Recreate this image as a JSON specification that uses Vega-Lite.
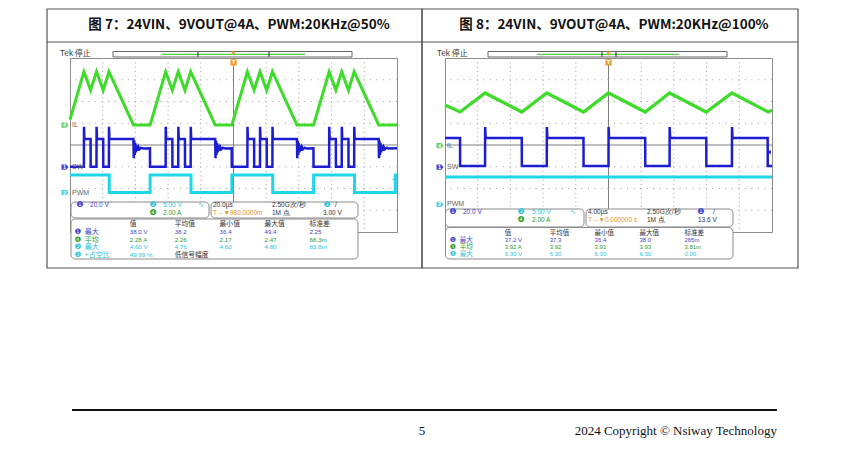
{
"$schema": "https://vega.github.io/schema/vega-lite/v6.json",
"autosize": {"type": "none", "contains": "content"},
"padding": {"left": 70, "top": 58, "right": 780, "bottom": 392},
"background": "white",
"spacing": 48,
"bounds": "flush",
"config": {"view": {"stroke": "#8c8c8c", "strokeWidth": 1}, "axis": {"disable": true}, "legend": {"disable": true}},
"hconcat": [
{
 "width": 327, "height": 174,
 "resolve": {"scale": {"x": "independent", "y": "independent"}},
 "layer": [
  {
   "data": {"values": [{"title": "图 7：24VIN、9VOUT@4A、PWM:20KHz@50%", "tek": "Tek 停止", "page": "5", "copyright": "2024 Copyright © Nsiway Technology"}]},
   "layer": [
    {"data": {"values": [{"g":1},{"g":2},{"g":3},{"g":4},{"g":6},{"g":7},{"g":8},{"g":9}]}, "mark": {"type": "rule", "color": "#a0a0a0", "strokeDash": [1, 3.35]}, "encoding": {"x": {"field": "g", "type": "quantitative", "scale": {"domain": [0, 10], "nice": false, "zero": false}}}},
    {"data": {"values": [{"g":-3},{"g":-2},{"g":-1},{"g":1},{"g":2},{"g":3}]}, "mark": {"type": "rule", "color": "#a0a0a0", "strokeDash": [1, 5.54]}, "encoding": {"y": {"field": "g", "type": "quantitative", "scale": {"domain": [-4, 4], "nice": false, "zero": false}}}},
    {"mark": {"type": "rule", "color": "#808080"}, "encoding": {"x": {"datum": 5}}},
    {"mark": {"type": "rule", "color": "#808080"}, "encoding": {"y": {"datum": 0}}},
    {"mark": {"type": "rect", "fillOpacity": 0, "stroke": "#555", "strokeWidth": 1.2}, "encoding": {"x": {"datum": -0.703}, "x2": {"datum": 10.765}, "y": {"datum": 6.253}, "y2": {"datum": -5.655}}},
    {"mark": {"type": "rule", "color": "#555", "strokeWidth": 1.2}, "encoding": {"x": {"datum": -0.703}, "x2": {"datum": 10.765}, "y": {"datum": 4.736}}},
    {"mark": {"type": "text", "font": "Noto Sans CJK SC", "fontWeight": "bold", "fontSize": 13.5, "color": "#111", "align": "center", "baseline": "middle"}, "encoding": {"x": {"datum": 5.168}, "y": {"datum": 5.517}, "text": {"field": "title"}}},
    {"mark": {"type": "text", "font": "Noto Sans CJK SC", "fontSize": 8, "color": "#333", "align": "left", "baseline": "middle"}, "encoding": {"x": {"datum": -0.306}, "y": {"datum": 4.184}, "text": {"field": "tek"}}},
    {"mark": {"type": "rect", "fill": "white", "stroke": "#666", "strokeWidth": 1}, "encoding": {"x": {"datum": 1.315}, "x2": {"datum": 8.624}, "y": {"datum": 4.299}, "y2": {"datum": 4.046}}},
    {"mark": {"type": "rule", "color": "#55cc55", "strokeWidth": 1.2}, "encoding": {"x": {"datum": 2.813}, "x2": {"datum": 7.187}, "y": {"datum": 4.17}}},
    {"mark": {"type": "rule", "color": "#222", "strokeWidth": 1}, "encoding": {"x": {"datum": 3.914}, "y": {"datum": 4.28}, "y2": {"datum": 4.06}}},
    {"mark": {"type": "rule", "color": "#222", "strokeWidth": 1}, "encoding": {"x": {"datum": 6.086}, "y": {"datum": 4.28}, "y2": {"datum": 4.06}}},
    {"mark": {"type": "point", "shape": "triangle-down", "size": 22, "filled": true, "color": "#f0a030", "opacity": 1}, "encoding": {"x": {"datum": 5}, "y": {"datum": 4.2}}},
    {"mark": {"type": "point", "shape": "square", "size": 40, "filled": true, "color": "#f0a030", "opacity": 1}, "encoding": {"x": {"datum": 5}, "y": {"datum": 3.8}}},
    {"mark": {"type": "text", "fontSize": 6, "fontWeight": "bold", "color": "white", "align": "center", "baseline": "middle"}, "encoding": {"x": {"datum": 5}, "y": {"datum": 3.8}, "text": {"value": "T"}}},
    {"mark": {"type": "rule", "color": "#111", "strokeWidth": 1.8}, "encoding": {"x": {"datum": 0.061}, "x2": {"datum": 21.62}, "y": {"datum": -12.184}}},
    {"mark": {"type": "text", "font": "Liberation Serif", "fontSize": 13, "color": "#111", "align": "center", "baseline": "alphabetic"}, "encoding": {"x": {"datum": 10.765}, "y": {"datum": -13.333}, "text": {"field": "page"}}},
    {"mark": {"type": "text", "font": "Liberation Serif", "fontSize": 13, "color": "#111", "align": "right", "baseline": "alphabetic"}, "encoding": {"x": {"datum": 21.62}, "y": {"datum": -13.333}, "text": {"field": "copyright"}}}
   ]
  },
  {
   "data": {"values": [{"t":0,"v":0.5},{"t":8.5,"v":4.9},{"t":12.6,"v":3.2},{"t":16.2,"v":4.9},{"t":20.3,"v":3.2},{"t":23.8,"v":4.9},{"t":38.8,"v":0},{"t":49,"v":0},
    {"t":58.5,"v":4.9},{"t":62.6,"v":3.2},{"t":66.2,"v":4.9},{"t":70.3,"v":3.2},{"t":73.8,"v":4.9},{"t":88.8,"v":0},{"t":99,"v":0},
    {"t":108.5,"v":4.9},{"t":112.6,"v":3.2},{"t":116.2,"v":4.9},{"t":120.3,"v":3.2},{"t":123.8,"v":4.9},{"t":138.8,"v":0},{"t":149,"v":0},
    {"t":158.5,"v":4.9},{"t":162.6,"v":3.2},{"t":166.2,"v":4.9},{"t":170.3,"v":3.2},{"t":173.8,"v":4.9},{"t":188.8,"v":0},{"t":200,"v":0}]},
   "layer": [
    {"mark": {"type": "line", "color": "#3edb2b", "strokeWidth": 3}, "encoding": {"x": {"field": "t", "type": "quantitative", "scale": {"domain": [0, 200], "nice": false, "zero": false}}, "y": {"field": "v", "type": "quantitative", "scale": {"domain": [-9.839, 6.161], "nice": false, "zero": false}}}},
    {"data": {"values": [{"ch": "4", "name": "IL"}]}, "encoding": {"x": {"datum": 0}, "y": {"datum": 0}},
     "layer": [
      {"mark": {"type": "point", "shape": "M-1,-0.75L0.4,-0.75L1,0L0.4,0.75L-1,0.75Z", "size": 49, "filled": true, "color": "#5cc85c", "opacity": 0.9, "xOffset": -5}},
      {"mark": {"type": "text", "fontSize": 5.5, "fontWeight": "bold", "color": "white", "align": "center", "baseline": "middle", "dx": -5.5}, "encoding": {"text": {"field": "ch"}}},
      {"mark": {"type": "text", "fontSize": 7, "color": "#666", "align": "left", "baseline": "middle", "dx": 2}, "encoding": {"text": {"field": "name"}}}
     ]}
   ]
  },
  {
   "data": {"values": [{"t":0,"v":0.3},
    {"t":8.5,"v":0.3},{"t":8.55,"v":37},{"t":8.8,"v":25.7},{"t":12.6,"v":25.7},{"t":12.65,"v":0.3},{"t":16.2,"v":0.3},{"t":16.25,"v":37},{"t":16.5,"v":25.7},{"t":20.3,"v":25.7},{"t":20.35,"v":0.3},{"t":23.8,"v":0.3},{"t":23.85,"v":37},{"t":24.1,"v":25.7},{"t":38.8,"v":25.7},{"t":39.0,"v":8},{"t":39.3,"v":24},{"t":39.6,"v":11},{"t":39.9,"v":22},{"t":40.3,"v":13.5},{"t":40.7,"v":20},{"t":41.2,"v":15},{"t":41.8,"v":18.5},{"t":42.5,"v":16.3},{"t":43.5,"v":17.6},{"t":45,"v":17},{"t":48.9,"v":17.2},{"t":48.95,"v":0.3},
    {"t":58.5,"v":0.3},{"t":58.55,"v":37},{"t":58.8,"v":25.7},{"t":62.6,"v":25.7},{"t":62.65,"v":0.3},{"t":66.2,"v":0.3},{"t":66.25,"v":37},{"t":66.5,"v":25.7},{"t":70.3,"v":25.7},{"t":70.35,"v":0.3},{"t":73.8,"v":0.3},{"t":73.85,"v":37},{"t":74.1,"v":25.7},{"t":88.8,"v":25.7},{"t":89.0,"v":8},{"t":89.3,"v":24},{"t":89.6,"v":11},{"t":89.9,"v":22},{"t":90.3,"v":13.5},{"t":90.7,"v":20},{"t":91.2,"v":15},{"t":91.8,"v":18.5},{"t":92.5,"v":16.3},{"t":93.5,"v":17.6},{"t":95,"v":17},{"t":98.9,"v":17.2},{"t":98.95,"v":0.3},
    {"t":108.5,"v":0.3},{"t":108.55,"v":37},{"t":108.8,"v":25.7},{"t":112.6,"v":25.7},{"t":112.65,"v":0.3},{"t":116.2,"v":0.3},{"t":116.25,"v":37},{"t":116.5,"v":25.7},{"t":120.3,"v":25.7},{"t":120.35,"v":0.3},{"t":123.8,"v":0.3},{"t":123.85,"v":37},{"t":124.1,"v":25.7},{"t":138.8,"v":25.7},{"t":139.0,"v":8},{"t":139.3,"v":24},{"t":139.6,"v":11},{"t":139.9,"v":22},{"t":140.3,"v":13.5},{"t":140.7,"v":20},{"t":141.2,"v":15},{"t":141.8,"v":18.5},{"t":142.5,"v":16.3},{"t":143.5,"v":17.6},{"t":145,"v":17},{"t":148.9,"v":17.2},{"t":148.95,"v":0.3},
    {"t":158.5,"v":0.3},{"t":158.55,"v":37},{"t":158.8,"v":25.7},{"t":162.6,"v":25.7},{"t":162.65,"v":0.3},{"t":166.2,"v":0.3},{"t":166.25,"v":37},{"t":166.5,"v":25.7},{"t":170.3,"v":25.7},{"t":170.35,"v":0.3},{"t":173.8,"v":0.3},{"t":173.85,"v":37},{"t":174.1,"v":25.7},{"t":188.8,"v":25.7},{"t":189.0,"v":8},{"t":189.3,"v":24},{"t":189.6,"v":11},{"t":189.9,"v":22},{"t":190.3,"v":13.5},{"t":190.7,"v":20},{"t":191.2,"v":15},{"t":191.8,"v":18.5},{"t":192.5,"v":16.3},{"t":193.5,"v":17.6},{"t":195,"v":17},{"t":200,"v":17.2}]},
   "layer": [
    {"mark": {"type": "line", "color": "#1c1cd2", "strokeWidth": 2.5}, "encoding": {"x": {"field": "t", "type": "quantitative", "scale": {"domain": [0, 200], "nice": false, "zero": false}}, "y": {"field": "v", "type": "quantitative", "scale": {"domain": [-59.77, 100.23], "nice": false, "zero": false}}}},
    {"data": {"values": [{"ch": "1", "name": "SW"}]}, "encoding": {"x": {"datum": 0}, "y": {"datum": 0}},
     "layer": [
      {"mark": {"type": "point", "shape": "M-1,-0.75L0.4,-0.75L1,0L0.4,0.75L-1,0.75Z", "size": 49, "filled": true, "color": "#3030c0", "opacity": 0.9, "xOffset": -5}},
      {"mark": {"type": "text", "fontSize": 5.5, "fontWeight": "bold", "color": "white", "align": "center", "baseline": "middle", "dx": -5.5}, "encoding": {"text": {"field": "ch"}}},
      {"mark": {"type": "text", "fontSize": 7, "color": "#666", "align": "left", "baseline": "middle", "dx": 2}, "encoding": {"text": {"field": "name"}}}
     ]}
   ]
  },
  {
   "data": {"values": [{"t":0,"v":4},{"t":24,"v":4},{"t":24,"v":0},{"t":49,"v":0},{"t":49,"v":4},{"t":74,"v":4},{"t":74,"v":0},{"t":99,"v":0},{"t":99,"v":4},{"t":124,"v":4},{"t":124,"v":0},{"t":149,"v":0},{"t":149,"v":4},{"t":174,"v":4},{"t":174,"v":0},{"t":199,"v":0},{"t":199,"v":4},{"t":200,"v":4}]},
   "layer": [
    {"mark": {"type": "line", "color": "#1fd5e8", "strokeWidth": 3}, "encoding": {"x": {"field": "t", "type": "quantitative", "scale": {"domain": [0, 200], "nice": false, "zero": false}}, "y": {"field": "v", "type": "quantitative", "scale": {"domain": [-9.08, 30.92], "nice": false, "zero": false}}}},
    {"data": {"values": [{"ch": "2", "name": "PWM"}]}, "encoding": {"x": {"datum": 0}, "y": {"datum": 0}},
     "layer": [
      {"mark": {"type": "point", "shape": "M-1,-0.75L0.4,-0.75L1,0L0.4,0.75L-1,0.75Z", "size": 49, "filled": true, "color": "#3cc8dc", "opacity": 0.9, "xOffset": -5}},
      {"mark": {"type": "text", "fontSize": 5.5, "fontWeight": "bold", "color": "white", "align": "center", "baseline": "middle", "dx": -5.5}, "encoding": {"text": {"field": "ch"}}},
      {"mark": {"type": "text", "fontSize": 7, "color": "#666", "align": "left", "baseline": "middle", "dx": 2}, "encoding": {"text": {"field": "name"}}}
     ]},
    {"data": {"values": [{"lvl": 3.0}]}, "mark": {"type": "point", "shape": "triangle-left", "size": 18, "filled": true, "color": "#1fd5e8", "opacity": 1, "xOffset": -3}, "encoding": {"x": {"datum": 200}, "y": {"field": "lvl", "type": "quantitative"}}}
   ]
  },
  {
   "data": {"values": [{}]},
   "layer": [
    {"mark": {"type": "rect", "fill": "white", "stroke": "#8a8a8a", "strokeWidth": 1, "cornerRadius": 4}, "encoding": {"x": {"datum": 0.031, "type": "quantitative", "scale": {"domain": [0, 10], "nice": false, "zero": false}}, "x2": {"datum": 4.251}, "y": {"datum": -2.621, "type": "quantitative", "scale": {"domain": [-4, 4], "nice": false, "zero": false}}, "y2": {"datum": -3.356}}},
    {"mark": {"type": "rect", "fill": "white", "stroke": "#8a8a8a", "strokeWidth": 1, "cornerRadius": 4}, "encoding": {"x": {"datum": 4.312}, "x2": {"datum": 8.807}, "y": {"datum": -2.621}, "y2": {"datum": -3.356}}},
    {"mark": {"type": "rect", "fill": "white", "stroke": "#8a8a8a", "strokeWidth": 1, "cornerRadius": 4}, "encoding": {"x": {"datum": 0.031}, "x2": {"datum": 8.807}, "y": {"datum": -3.402}, "y2": {"datum": -5.241}}}
   ]
  },
  {
   "data": {"values": [
    {"c":"A","r":0,"p":"❶","pch":"1","t":"20.0 V","ch":"1"},{"c":"B","r":0,"p":"❷","pch":"2","t":"5.00 V","ch":"2"},{"c":"B","r":1,"p":"❹","pch":"4","t":"2.00 A","ch":"4"},{"c":"I","r":0,"t":"∿","ch":"2"},
    {"c":"C","r":0,"t":"20.0µs","ch":"k"},{"c":"C","r":1,"t":"T→▼980.0000m","ch":"o"},{"c":"D","r":0,"t":"2.50G次/秒","ch":"k"},{"c":"D","r":1,"t":"1M 点","ch":"k"},
    {"c":"F","r":0,"p":"❷","pch":"2","t":"/","ch":"k"},{"c":"E","r":1,"t":"3.00 V","ch":"k"}]},
   "encoding": {
    "y": {"field": "r", "type": "quantitative", "scale": {"domain": [-18.375, 3.375], "reverse": true, "nice": false, "zero": false}},
    "text": {"field": "t"},
    "color": {"field": "ch", "type": "nominal", "scale": {"domain": ["1","4","2","k","o"], "range": ["#4444c4","#2d9a2d","#2cc4d8","#333333","#e8931a"]}, "legend": null}
   },
   "layer": [
    {"transform": [{"filter": "datum.c==='A'"}], "encoding": {"x": {"datum": 0.612, "type": "quantitative", "scale": {"domain": [0, 10], "nice": false, "zero": false}}},
     "layer": [
      {"mark": {"type": "text", "font": "Liberation Sans", "fontSize": 6.5, "align": "left", "baseline": "middle"}},
      {"mark": {"type": "text", "font": "DejaVu Sans", "fontSize": 8, "align": "center", "baseline": "middle", "dx": -10}, "encoding": {"text": {"field": "p"}, "color": {"field": "pch", "type": "nominal"}}}
     ]},
    {"transform": [{"filter": "datum.c==='B'"}], "encoding": {"x": {"datum": 2.844}},
     "layer": [
      {"mark": {"type": "text", "font": "Liberation Sans", "fontSize": 6.5, "align": "left", "baseline": "middle"}},
      {"mark": {"type": "text", "font": "DejaVu Sans", "fontSize": 8, "align": "center", "baseline": "middle", "dx": -10}, "encoding": {"text": {"field": "p"}, "color": {"field": "pch", "type": "nominal"}}}
     ]},
    {"transform": [{"filter": "datum.c==='F'"}], "encoding": {"x": {"datum": 8.104}},
     "layer": [
      {"mark": {"type": "text", "font": "Liberation Sans", "fontSize": 6.5, "align": "left", "baseline": "middle"}},
      {"mark": {"type": "text", "font": "DejaVu Sans", "fontSize": 8, "align": "center", "baseline": "middle", "dx": -8}, "encoding": {"text": {"field": "p"}, "color": {"field": "pch", "type": "nominal"}}}
     ]},
    {"transform": [{"filter": "datum.c==='I'"}], "mark": {"type": "text", "font": "DejaVu Sans", "fontSize": 7, "align": "left", "baseline": "middle"}, "encoding": {"x": {"datum": 3.914}}},
    {"transform": [{"filter": "datum.c==='C'"}], "mark": {"type": "text", "font": "Liberation Sans", "fontSize": 6.5, "align": "left", "baseline": "middle"}, "encoding": {"x": {"datum": 4.373}}},
    {"transform": [{"filter": "datum.c==='D'"}], "mark": {"type": "text", "font": "Liberation Sans", "fontSize": 6.5, "align": "left", "baseline": "middle"}, "encoding": {"x": {"datum": 6.177}}},
    {"transform": [{"filter": "datum.c==='E'"}], "mark": {"type": "text", "font": "Liberation Sans", "fontSize": 6.5, "align": "left", "baseline": "middle"}, "encoding": {"x": {"datum": 7.737}}}
   ]
  },
  {
   "data": {"values": [
    {"r":0,"c":1,"t":"值","ch":"k"},{"r":0,"c":2,"t":"平均值","ch":"k"},{"r":0,"c":3,"t":"最小值","ch":"k"},{"r":0,"c":4,"t":"最大值","ch":"k"},{"r":0,"c":5,"t":"标准差","ch":"k"},
    {"r":1,"c":0,"p":"❶","pch":"1","t":"最大","ch":"1"},{"r":1,"c":1,"t":"38.0 V","ch":"1"},{"r":1,"c":2,"t":"38.2","ch":"1"},{"r":1,"c":3,"t":"36.4","ch":"1"},{"r":1,"c":4,"t":"49.4","ch":"1"},{"r":1,"c":5,"t":"2.25","ch":"1"},
    {"r":2,"c":0,"p":"❹","pch":"4","t":"平均","ch":"4"},{"r":2,"c":1,"t":"2.28 A","ch":"4"},{"r":2,"c":2,"t":"2.26","ch":"4"},{"r":2,"c":3,"t":"2.17","ch":"4"},{"r":2,"c":4,"t":"2.47","ch":"4"},{"r":2,"c":5,"t":"68.3m","ch":"4"},
    {"r":3,"c":0,"p":"❷","pch":"2","t":"最大","ch":"2"},{"r":3,"c":1,"t":"4.60 V","ch":"2"},{"r":3,"c":2,"t":"4.76","ch":"2"},{"r":3,"c":3,"t":"4.60","ch":"2"},{"r":3,"c":4,"t":"4.80","ch":"2"},{"r":3,"c":5,"t":"83.8m","ch":"2"},
    {"r":4,"c":0,"p":"❷","pch":"2","t":"+占空比","ch":"2"},{"r":4,"c":1,"t":"49.99 %","ch":"2"},{"r":4,"c":2,"t":"低信号幅度","ch":"k"}]},
   "encoding": {
    "x": {"field": "c", "type": "quantitative", "scale": {"domain": [-0.33, 6.95], "nice": false, "zero": false}},
    "y": {"field": "r", "type": "quantitative", "scale": {"domain": [-21.419, 1.032], "reverse": true, "nice": false, "zero": false}},
    "text": {"field": "t"},
    "color": {"field": "ch", "type": "nominal", "scale": {"domain": ["1","4","2","k","o"], "range": ["#4444c4","#2d9a2d","#2cc4d8","#333333","#e8931a"]}, "legend": null}
   },
   "layer": [
    {"transform": [{"filter": "datum.ch==='k'"}], "mark": {"type": "text", "font": "Noto Sans CJK SC", "fontSize": 6.8, "align": "left", "baseline": "middle"}},
    {"transform": [{"filter": "datum.c===0"}], "mark": {"type": "text", "font": "Noto Sans CJK SC", "fontSize": 7, "align": "left", "baseline": "middle"}},
    {"transform": [{"filter": "datum.c===0"}], "mark": {"type": "text", "font": "DejaVu Sans", "fontSize": 7.5, "align": "center", "baseline": "middle", "dx": -7}, "encoding": {"text": {"field": "p"}, "color": {"field": "pch", "type": "nominal"}}},
    {"transform": [{"filter": "datum.c>0 && datum.ch!=='k'"}], "mark": {"type": "text", "font": "Liberation Sans", "fontSize": 6.2, "align": "left", "baseline": "middle"}}
   ]
  }
 ]
},
{
 "width": 327, "height": 174,
 "resolve": {"scale": {"x": "independent", "y": "independent"}},
 "layer": [
  {
   "data": {"values": [{"title": "图 8：24VIN、9VOUT@4A、PWM:20KHz@100%", "tek": "Tek 停止"}]},
   "layer": [
    {"data": {"values": [{"g":1},{"g":2},{"g":3},{"g":4},{"g":6},{"g":7},{"g":8},{"g":9}]}, "mark": {"type": "rule", "color": "#a0a0a0", "strokeDash": [1, 3.35]}, "encoding": {"x": {"field": "g", "type": "quantitative", "scale": {"domain": [0, 10], "nice": false, "zero": false}}}},
    {"data": {"values": [{"g":-3},{"g":-2},{"g":-1},{"g":1},{"g":2},{"g":3}]}, "mark": {"type": "rule", "color": "#a0a0a0", "strokeDash": [1, 5.54]}, "encoding": {"y": {"field": "g", "type": "quantitative", "scale": {"domain": [-4, 4], "nice": false, "zero": false}}}},
    {"mark": {"type": "rule", "color": "#808080"}, "encoding": {"x": {"datum": 5}}},
    {"mark": {"type": "rule", "color": "#808080"}, "encoding": {"y": {"datum": 0}}},
    {"mark": {"type": "rect", "fillOpacity": 0, "stroke": "#555", "strokeWidth": 1.2}, "encoding": {"x": {"datum": -0.703}, "x2": {"datum": 10.795}, "y": {"datum": 6.253}, "y2": {"datum": -5.655}}},
    {"mark": {"type": "rule", "color": "#555", "strokeWidth": 1.2}, "encoding": {"x": {"datum": -0.703}, "x2": {"datum": 10.795}, "y": {"datum": 4.736}}},
    {"mark": {"type": "text", "font": "Noto Sans CJK SC", "fontWeight": "bold", "fontSize": 13.5, "color": "#111", "align": "center", "baseline": "middle"}, "encoding": {"x": {"datum": 5.168}, "y": {"datum": 5.517}, "text": {"field": "title"}}},
    {"mark": {"type": "text", "font": "Noto Sans CJK SC", "fontSize": 8, "color": "#333", "align": "left", "baseline": "middle"}, "encoding": {"x": {"datum": -0.245}, "y": {"datum": 4.184}, "text": {"field": "tek"}}},
    {"mark": {"type": "rect", "fill": "white", "stroke": "#666", "strokeWidth": 1}, "encoding": {"x": {"datum": 1.315}, "x2": {"datum": 8.624}, "y": {"datum": 4.299}, "y2": {"datum": 4.046}}},
    {"mark": {"type": "rule", "color": "#55cc55", "strokeWidth": 1.2}, "encoding": {"x": {"datum": 2.813}, "x2": {"datum": 7.156}, "y": {"datum": 4.17}}},
    {"mark": {"type": "rule", "color": "#222", "strokeWidth": 1}, "encoding": {"x": {"datum": 4.801}, "y": {"datum": 4.28}, "y2": {"datum": 4.06}}},
    {"mark": {"type": "rule", "color": "#222", "strokeWidth": 1}, "encoding": {"x": {"datum": 5.229}, "y": {"datum": 4.28}, "y2": {"datum": 4.06}}},
    {"mark": {"type": "point", "shape": "triangle-down", "size": 22, "filled": true, "color": "#f0a030", "opacity": 1}, "encoding": {"x": {"datum": 5}, "y": {"datum": 4.2}}},
    {"mark": {"type": "point", "shape": "square", "size": 40, "filled": true, "color": "#f0a030", "opacity": 1}, "encoding": {"x": {"datum": 5}, "y": {"datum": 3.8}}},
    {"mark": {"type": "text", "fontSize": 6, "fontWeight": "bold", "color": "white", "align": "center", "baseline": "middle"}, "encoding": {"x": {"datum": 5}, "y": {"datum": 3.8}, "text": {"value": "T"}}}
   ]
  },
  {
   "data": {"values": [{"t":0,"v":3.72},{"t":1.84,"v":3.08},{"t":4.9,"v":4.83},{"t":9.39,"v":3.08},{"t":12.45,"v":4.83},{"t":16.94,"v":3.08},{"t":20.0,"v":4.83},{"t":24.49,"v":3.08},{"t":27.47,"v":4.83},{"t":31.96,"v":3.08},{"t":35.1,"v":4.83},{"t":39.55,"v":3.08},{"t":40,"v":3.25}]},
   "layer": [
    {"mark": {"type": "line", "color": "#3edb2b", "strokeWidth": 3.2}, "encoding": {"x": {"field": "t", "type": "quantitative", "scale": {"domain": [0, 40], "nice": false, "zero": false}}, "y": {"field": "v", "type": "quantitative", "scale": {"domain": [-7.954, 8.046], "nice": false, "zero": false}}}},
    {"data": {"values": [{"ch": "4", "name": "IL"}]}, "encoding": {"x": {"datum": 0}, "y": {"datum": 0}},
     "layer": [
      {"mark": {"type": "point", "shape": "M-1,-0.75L0.4,-0.75L1,0L0.4,0.75L-1,0.75Z", "size": 49, "filled": true, "color": "#5cc85c", "opacity": 0.9, "xOffset": -5}},
      {"mark": {"type": "text", "fontSize": 5.5, "fontWeight": "bold", "color": "white", "align": "center", "baseline": "middle", "dx": -5.5}, "encoding": {"text": {"field": "ch"}}},
      {"mark": {"type": "text", "fontSize": 7, "color": "#666", "align": "left", "baseline": "middle", "dx": 2}, "encoding": {"text": {"field": "name"}}}
     ]}
   ]
  },
  {
   "data": {"values": [{"t":0,"v":26.7},{"t":1.84,"v":26.7},{"t":1.85,"v":0.9},{"t":4.9,"v":0.9},{"t":4.91,"v":36.8},{"t":4.97,"v":26.7},{"t":9.39,"v":26.7},{"t":9.4,"v":0.9},{"t":12.45,"v":0.9},{"t":12.46,"v":36.8},{"t":12.52,"v":26.7},{"t":16.94,"v":26.7},{"t":16.95,"v":0.9},{"t":20.0,"v":0.9},{"t":20.01,"v":36.8},{"t":20.07,"v":26.7},{"t":24.49,"v":26.7},{"t":24.5,"v":0.9},{"t":27.47,"v":0.9},{"t":27.48,"v":36.8},{"t":27.54,"v":26.7},{"t":31.96,"v":26.7},{"t":31.97,"v":0.9},{"t":35.1,"v":0.9},{"t":35.11,"v":36.8},{"t":35.17,"v":26.7},{"t":39.47,"v":26.7},{"t":39.48,"v":0.9},{"t":40,"v":0.9}]},
   "layer": [
    {"mark": {"type": "line", "color": "#1c1cd2", "strokeWidth": 2.5}, "encoding": {"x": {"field": "t", "type": "quantitative", "scale": {"domain": [0, 40], "nice": false, "zero": false}}, "y": {"field": "v", "type": "quantitative", "scale": {"domain": [-59.77, 100.23], "nice": false, "zero": false}}}},
    {"data": {"values": [{"ch": "1", "name": "SW"}]}, "encoding": {"x": {"datum": 0}, "y": {"datum": 0}},
     "layer": [
      {"mark": {"type": "point", "shape": "M-1,-0.75L0.4,-0.75L1,0L0.4,0.75L-1,0.75Z", "size": 49, "filled": true, "color": "#3030c0", "opacity": 0.9, "xOffset": -5}},
      {"mark": {"type": "text", "fontSize": 5.5, "fontWeight": "bold", "color": "white", "align": "center", "baseline": "middle", "dx": -5.5}, "encoding": {"text": {"field": "ch"}}},
      {"mark": {"type": "text", "fontSize": 7, "color": "#666", "align": "left", "baseline": "middle", "dx": 2}, "encoding": {"text": {"field": "name"}}}
     ]},
    {"data": {"values": [{"lvl": 13.6}]}, "mark": {"type": "point", "shape": "triangle-left", "size": 18, "filled": true, "color": "#1c1cd2", "opacity": 1, "xOffset": -3}, "encoding": {"x": {"datum": 40}, "y": {"field": "lvl", "type": "quantitative"}}}
   ]
  },
  {
   "data": {"values": [{"t":0,"v":6.3},{"t":40,"v":6.3}]},
   "layer": [
    {"mark": {"type": "line", "color": "#1fd5e8", "strokeWidth": 3.2}, "encoding": {"x": {"field": "t", "type": "quantitative", "scale": {"domain": [0, 40], "nice": false, "zero": false}}, "y": {"field": "v", "type": "quantitative", "scale": {"domain": [-6.345, 33.655], "nice": false, "zero": false}}}},
    {"data": {"values": [{"ch": "2", "name": "PWM"}]}, "encoding": {"x": {"datum": 0}, "y": {"datum": 0}},
     "layer": [
      {"mark": {"type": "point", "shape": "M-1,-0.75L0.4,-0.75L1,0L0.4,0.75L-1,0.75Z", "size": 49, "filled": true, "color": "#3cc8dc", "opacity": 0.9, "xOffset": -5}},
      {"mark": {"type": "text", "fontSize": 5.5, "fontWeight": "bold", "color": "white", "align": "center", "baseline": "middle", "dx": -5.5}, "encoding": {"text": {"field": "ch"}}},
      {"mark": {"type": "text", "fontSize": 7, "color": "#666", "align": "left", "baseline": "middle", "dx": 2}, "encoding": {"text": {"field": "name"}}}
     ]}
   ]
  },
  {
   "data": {"values": [{}]},
   "layer": [
    {"mark": {"type": "rect", "fill": "white", "stroke": "#8a8a8a", "strokeWidth": 1, "cornerRadius": 4}, "encoding": {"x": {"datum": 0.015, "type": "quantitative", "scale": {"domain": [0, 10], "nice": false, "zero": false}}, "x2": {"datum": 4.251}, "y": {"datum": -2.943, "type": "quantitative", "scale": {"domain": [-4, 4], "nice": false, "zero": false}}, "y2": {"datum": -3.77}}},
    {"mark": {"type": "rect", "fill": "white", "stroke": "#8a8a8a", "strokeWidth": 1, "cornerRadius": 4}, "encoding": {"x": {"datum": 4.312}, "x2": {"datum": 8.807}, "y": {"datum": -2.943}, "y2": {"datum": -3.77}}},
    {"mark": {"type": "rect", "fill": "white", "stroke": "#8a8a8a", "strokeWidth": 1, "cornerRadius": 4}, "encoding": {"x": {"datum": 0.015}, "x2": {"datum": 8.807}, "y": {"datum": -3.793}, "y2": {"datum": -5.241}}}
   ]
  },
  {
   "data": {"values": [
    {"c":"A","r":0,"p":"❶","pch":"1","t":"20.0 V","ch":"1"},{"c":"B","r":0,"p":"❷","pch":"2","t":"5.00 V","ch":"2"},{"c":"B","r":1,"p":"❹","pch":"4","t":"2.00 A","ch":"4"},{"c":"I","r":0,"t":"∿","ch":"2"},
    {"c":"C","r":0,"t":"4.00µs","ch":"k"},{"c":"C","r":1,"t":"T→▼0.000000 s","ch":"o"},{"c":"D","r":0,"t":"2.50G次/秒","ch":"k"},{"c":"D","r":1,"t":"1M 点","ch":"k"},
    {"c":"F","r":0,"p":"❶","pch":"1","t":"/","ch":"k"},{"c":"E","r":1,"t":"13.6 V","ch":"k"}]},
   "encoding": {
    "y": {"field": "r", "type": "quantitative", "scale": {"domain": [-19.25, 2.5], "reverse": true, "nice": false, "zero": false}},
    "text": {"field": "t"},
    "color": {"field": "ch", "type": "nominal", "scale": {"domain": ["1","4","2","k","o"], "range": ["#4444c4","#2d9a2d","#2cc4d8","#333333","#e8931a"]}, "legend": null}
   },
   "layer": [
    {"transform": [{"filter": "datum.c==='A'"}], "encoding": {"x": {"datum": 0.55, "type": "quantitative", "scale": {"domain": [0, 10], "nice": false, "zero": false}}},
     "layer": [
      {"mark": {"type": "text", "font": "Liberation Sans", "fontSize": 6.5, "align": "left", "baseline": "middle"}},
      {"mark": {"type": "text", "font": "DejaVu Sans", "fontSize": 8, "align": "center", "baseline": "middle", "dx": -10}, "encoding": {"text": {"field": "p"}, "color": {"field": "pch", "type": "nominal"}}}
     ]},
    {"transform": [{"filter": "datum.c==='B'"}], "encoding": {"x": {"datum": 2.661}},
     "layer": [
      {"mark": {"type": "text", "font": "Liberation Sans", "fontSize": 6.5, "align": "left", "baseline": "middle"}},
      {"mark": {"type": "text", "font": "DejaVu Sans", "fontSize": 8, "align": "center", "baseline": "middle", "dx": -11}, "encoding": {"text": {"field": "p"}, "color": {"field": "pch", "type": "nominal"}}}
     ]},
    {"transform": [{"filter": "datum.c==='F'"}], "encoding": {"x": {"datum": 8.196}},
     "layer": [
      {"mark": {"type": "text", "font": "Liberation Sans", "fontSize": 6.5, "align": "left", "baseline": "middle"}},
      {"mark": {"type": "text", "font": "DejaVu Sans", "fontSize": 8, "align": "center", "baseline": "middle", "dx": -12}, "encoding": {"text": {"field": "p"}, "color": {"field": "pch", "type": "nominal"}}}
     ]},
    {"transform": [{"filter": "datum.c==='I'"}], "mark": {"type": "text", "font": "DejaVu Sans", "fontSize": 7, "align": "left", "baseline": "middle"}, "encoding": {"x": {"datum": 3.823}}},
    {"transform": [{"filter": "datum.c==='C'"}], "mark": {"type": "text", "font": "Liberation Sans", "fontSize": 6.5, "align": "left", "baseline": "middle"}, "encoding": {"x": {"datum": 4.373}}},
    {"transform": [{"filter": "datum.c==='D'"}], "mark": {"type": "text", "font": "Liberation Sans", "fontSize": 6.5, "align": "left", "baseline": "middle"}, "encoding": {"x": {"datum": 6.177}}},
    {"transform": [{"filter": "datum.c==='E'"}], "mark": {"type": "text", "font": "Liberation Sans", "fontSize": 6.5, "align": "left", "baseline": "middle"}, "encoding": {"x": {"datum": 7.737}}}
   ]
  },
  {
   "data": {"values": [
    {"r":0,"c":1,"t":"值","ch":"k"},{"r":0,"c":2,"t":"平均值","ch":"k"},{"r":0,"c":3,"t":"最小值","ch":"k"},{"r":0,"c":4,"t":"最大值","ch":"k"},{"r":0,"c":5,"t":"标准差","ch":"k"},
    {"r":1,"c":0,"p":"❶","pch":"1","t":"最大","ch":"1"},{"r":1,"c":1,"t":"37.2 V","ch":"1"},{"r":1,"c":2,"t":"37.3","ch":"1"},{"r":1,"c":3,"t":"36.4","ch":"1"},{"r":1,"c":4,"t":"38.0","ch":"1"},{"r":1,"c":5,"t":"265m","ch":"1"},
    {"r":2,"c":0,"p":"❹","pch":"4","t":"平均","ch":"4"},{"r":2,"c":1,"t":"3.92 A","ch":"4"},{"r":2,"c":2,"t":"3.92","ch":"4"},{"r":2,"c":3,"t":"3.91","ch":"4"},{"r":2,"c":4,"t":"3.93","ch":"4"},{"r":2,"c":5,"t":"3.81m","ch":"4"},
    {"r":3,"c":0,"p":"❷","pch":"2","t":"最大","ch":"2"},{"r":3,"c":1,"t":"6.30 V","ch":"2"},{"r":3,"c":2,"t":"6.30","ch":"2"},{"r":3,"c":3,"t":"6.30","ch":"2"},{"r":3,"c":4,"t":"6.30","ch":"2"},{"r":3,"c":5,"t":"0.00","ch":"2"}]},
   "encoding": {
    "x": {"field": "c", "type": "quantitative", "scale": {"domain": [-0.33, 6.95], "nice": false, "zero": false}},
    "y": {"field": "r", "type": "quantitative", "scale": {"domain": [-25.362, -0.145], "reverse": true, "nice": false, "zero": false}},
    "text": {"field": "t"},
    "color": {"field": "ch", "type": "nominal", "scale": {"domain": ["1","4","2","k","o"], "range": ["#4444c4","#2d9a2d","#2cc4d8","#333333","#e8931a"]}, "legend": null}
   },
   "layer": [
    {"transform": [{"filter": "datum.ch==='k'"}], "mark": {"type": "text", "font": "Noto Sans CJK SC", "fontSize": 6.5, "align": "left", "baseline": "middle"}},
    {"transform": [{"filter": "datum.c===0"}], "mark": {"type": "text", "font": "Noto Sans CJK SC", "fontSize": 6.5, "align": "left", "baseline": "middle"}},
    {"transform": [{"filter": "datum.c===0"}], "mark": {"type": "text", "font": "DejaVu Sans", "fontSize": 7, "align": "center", "baseline": "middle", "dx": -7}, "encoding": {"text": {"field": "p"}, "color": {"field": "pch", "type": "nominal"}}},
    {"transform": [{"filter": "datum.c>0 && datum.ch!=='k'"}], "mark": {"type": "text", "font": "Liberation Sans", "fontSize": 6, "align": "left", "baseline": "middle"}}
   ]
  }
 ]
}
]
}
